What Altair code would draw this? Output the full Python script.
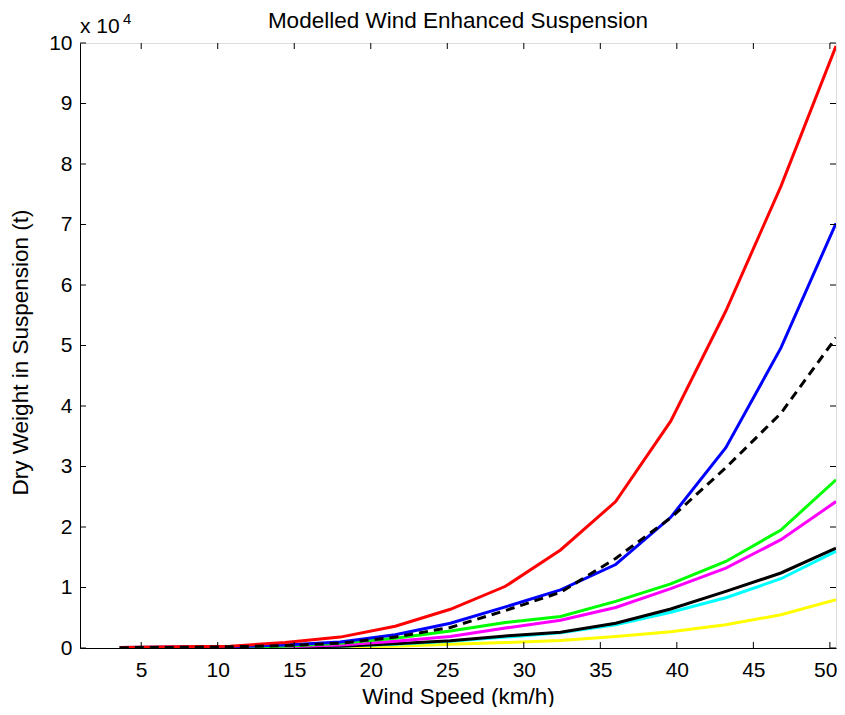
import altair as alt
import pandas as pd

# Wind speed (km/h)
wind = [3.6, 7.2, 10.8, 14.4, 18.0, 21.6, 25.2, 28.8, 32.4, 36.0, 39.6, 43.2, 46.8, 50.4]

# Dry weight in suspension (x 10^4 t)
red = [0.01, 0.02, 0.03, 0.09, 0.18, 0.36, 0.64, 1.02, 1.62, 2.42, 3.75, 5.57, 7.63, 9.95]
blue = [0.01, 0.015, 0.02, 0.05, 0.1, 0.22, 0.41, 0.68, 0.96, 1.38, 2.16, 3.31, 4.96, 7.02]
dashed = [0.005, 0.01, 0.02, 0.04, 0.08, 0.18, 0.34, 0.62, 0.92, 1.48, 2.15, 2.98, 3.88, 5.13]
green = [0.005, 0.01, 0.015, 0.03, 0.08, 0.16, 0.28, 0.42, 0.52, 0.77, 1.06, 1.43, 1.95, 2.78]
magenta = [0.005, 0.01, 0.01, 0.02, 0.05, 0.11, 0.19, 0.33, 0.46, 0.67, 0.98, 1.32, 1.79, 2.42]
black = [0.003, 0.005, 0.008, 0.015, 0.03, 0.07, 0.12, 0.2, 0.26, 0.41, 0.645, 0.935, 1.24, 1.65]
cyan = [0.003, 0.005, 0.008, 0.012, 0.03, 0.06, 0.11, 0.18, 0.25, 0.385, 0.59, 0.83, 1.145, 1.6]
yellow = [0.002, 0.003, 0.004, 0.008, 0.015, 0.03, 0.06, 0.09, 0.125, 0.19, 0.27, 0.385, 0.55, 0.8]

series_names = ["yellow", "cyan", "black", "magenta", "green", "blue", "red"]
series_colors = ["#ffff00", "#00ffff", "#000000", "#ff00ff", "#00ff00", "#0000ff", "#ff0000"]
series_values = [yellow, cyan, black, magenta, green, blue, red]

x_ticks = [5, 10, 15, 20, 25, 30, 35, 40, 45, 50]
y_ticks = [0, 1, 2, 3, 4, 5, 6, 7, 8, 9, 10]

title_text = "Modelled Wind Enhanced Suspension"
x_title = "Wind Speed (km/h)"
y_title = "Dry Weight in Suspension (t)"

W, H = 756, 605
FONT = "Liberation Sans"

rows = []
for name, vals in zip(series_names, series_values):
    for xv, yv in zip(wind, vals):
        rows.append({"wind": xv, "weight": yv, "series": name})
df = pd.DataFrame(rows)
df_dash = pd.DataFrame({"wind": wind, "weight": dashed})
df_xt = pd.DataFrame({"t": x_ticks})
df_yt = pd.DataFrame({"t": y_ticks})

xscale = alt.Scale(domain=[1, 50.4], nice=False, zero=False)
yscale = alt.Scale(domain=[0, 10], nice=False)

common_axis = dict(grid=False, tickSize=0, domainColor="black", labelFontSize=21,
                   titleFontSize=22.5, titleFontWeight="normal", labelColor="black",
                   titleColor="black", labelFont=FONT, titleFont=FONT, format="d")
xaxis = alt.Axis(values=x_ticks, title=x_title, labelPadding=11,
                 labelFlush=8, labelFlushOffset=7,
                 titleBaseline="alphabetic", titleY=55, **common_axis)
yaxis = alt.Axis(values=y_ticks, title=y_title, labelPadding=8, labelFlush=False,
                 titleBaseline="alphabetic", titleX=-53, titleY=309, titleAngle=270,
                 **common_axis)

base_lines = alt.Chart(df).mark_line(strokeWidth=3, clip=True).encode(
    x=alt.X("wind:Q", scale=xscale, axis=xaxis),
    y=alt.Y("weight:Q", scale=yscale, axis=yaxis),
    color=alt.Color("series:N", scale=alt.Scale(domain=series_names, range=series_colors), legend=None),
    detail="series:N",
    order="wind:Q",
)

dash_line = alt.Chart(df_dash).mark_line(strokeWidth=3, color="black", strokeDash=[9, 6], clip=True).encode(
    x=alt.X("wind:Q", scale=xscale),
    y=alt.Y("weight:Q", scale=yscale),
)

tick_style = dict(color="black", strokeWidth=1)
bottom_ticks = alt.Chart(df_xt).mark_rule(**tick_style).encode(
    x=alt.X("t:Q", scale=xscale), y=alt.value(H), y2=alt.value(H - 6))
top_ticks = alt.Chart(df_xt).mark_rule(**tick_style).encode(
    x=alt.X("t:Q", scale=xscale), y=alt.value(0), y2=alt.value(6))
left_ticks = alt.Chart(df_yt).mark_rule(**tick_style).encode(
    y=alt.Y("t:Q", scale=yscale), x=alt.value(0), x2=alt.value(6))
right_ticks = alt.Chart(df_yt).mark_rule(**tick_style).encode(
    y=alt.Y("t:Q", scale=yscale), x=alt.value(W), x2=alt.value(W - 6))

exp_base = alt.Chart(pd.DataFrame({"s": ["x 10"]})).mark_text(
    align="left", baseline="alphabetic", fontSize=21, font=FONT, color="black").encode(
    text="s:N", x=alt.value(0), y=alt.value(-10))
exp_pow = alt.Chart(pd.DataFrame({"s": ["4"]})).mark_text(
    align="left", baseline="alphabetic", fontSize=15, font=FONT, color="black").encode(
    text="s:N", x=alt.value(43), y=alt.value(-19))
title_mark = alt.Chart(pd.DataFrame({"s": [title_text]})).mark_text(
    align="center", baseline="alphabetic", fontSize=22.5, font=FONT, color="black").encode(
    text="s:N", x=alt.value(W / 2), y=alt.value(-15))

chart = alt.layer(
    base_lines, dash_line, bottom_ticks, top_ticks, left_ticks, right_ticks,
    exp_base, exp_pow, title_mark
).properties(
    width=W, height=H,
    autosize=alt.AutoSizeParams(type="none"),
    padding={"left": 72, "top": 35, "right": 1, "bottom": 59},
).configure_view(stroke="black", strokeWidth=1).configure(background="white")

chart.save("out.html", embed_options={"renderer": "svg", "actions": False})
